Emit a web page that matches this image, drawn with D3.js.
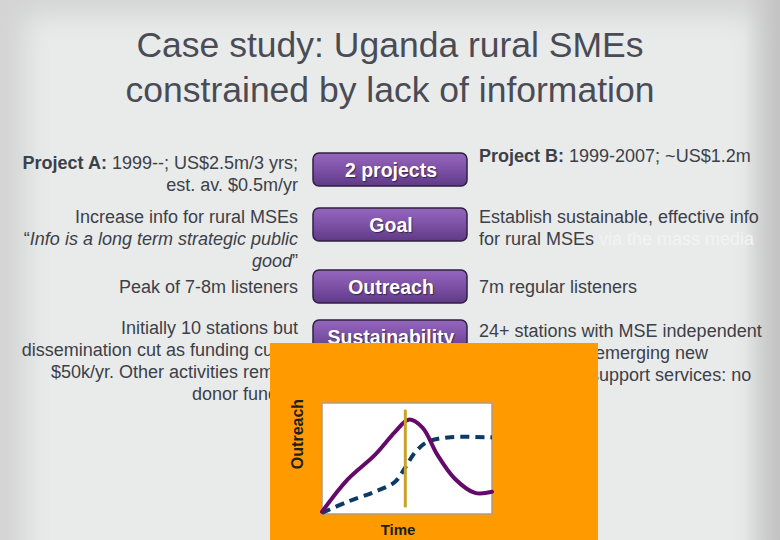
<!DOCTYPE html>
<html>
<head>
<meta charset="utf-8">
<script src="https://cdn.jsdelivr.net/npm/d3@7"></script>
<style>
  body { margin: 0; background: #d3d3d3; }
  svg { display: block; font-family: "Liberation Sans", Arial, sans-serif; }
</style>
</head>
<body>
<div id="slide"></div>
<script>
// slide text
const titleLines = ["Case study: Uganda rural SMEs", "constrained by lack of information"];
const rowLabels = ["2 projects", "Goal", "Outreach", "Sustainability"];
const leftText = [
  [{b: "Project A:", t: " 1999--; US$2.5m/3 yrs;"}, {t: "est. av. $0.5m/yr"}],
  [{t: "Increase info for rural MSEs"}, {t: "\u201c", i: "Info is a long term strategic public"}, {i: "good", t2: "\u201d"}],
  [{t: "Peak of 7-8m listeners"}],
  [{t: "Initially 10 stations but"}, {t: "dissemination cut as funding cut to"}, {t: "$50k/yr. Other activities remain"}, {t: "donor funded"}]
];
const rightText = [
  [{b: "Project B:", t: " 1999-2007; ~US$1.2m"}],
  [{t: "Establish sustainable, effective info"}, {t: "for rural MSEs", faint: " via the mass media"}],
  [{t: "7m regular listeners"}],
  [{t: "24+ stations with MSE independent"}, {t: "programming; emerging new"}, {t: "and technical support services: no"}]
];

// inset chart: outreach over time
const timeA = [0, 1.5, 3.1, 4.3, 5.1, 5.9, 6.8, 7.8, 9.0, 10];
const outreachA = [0.2, 3.1, 5.3, 7.4, 8.5, 7.8, 5.3, 3.2, 1.9, 2.0];
const timeB = [0, 1.5, 3.1, 4.3, 4.9, 5.5, 6.2, 7.4, 10];
const outreachB = [0.1, 1.1, 2.0, 2.9, 4.2, 5.6, 6.5, 6.9, 6.9];
const fundingCut = 4.9;

const width = 780, height = 540;

let svg = d3.select("#slide").append("svg")
    .attr("width", width).attr("height", height);

let defs = svg.append("defs");

defs.append("filter").attr("id", "soft")
    .attr("x", "-10%").attr("y", "-10%").attr("width", "120%").attr("height", "120%")
  .append("feGaussianBlur").attr("stdDeviation", 14);

let edge = defs.append("linearGradient").attr("id", "edge")
    .attr("x1", "0").attr("x2", "1").attr("y1", "0").attr("y2", "0");
edge.append("stop").attr("offset", "0%").attr("stop-color", "#c8c8c8").attr("stop-opacity", 0);
edge.append("stop").attr("offset", "100%").attr("stop-color", "#c2c2c2").attr("stop-opacity", 1);

let btn = defs.append("linearGradient").attr("id", "btn")
    .attr("x1", "0").attr("x2", "0").attr("y1", "0").attr("y2", "1");
btn.append("stop").attr("offset", "0%").attr("stop-color", "#9566bd");
btn.append("stop").attr("offset", "50%").attr("stop-color", "#7d51a6");
btn.append("stop").attr("offset", "100%").attr("stop-color", "#5f3a86");

// slide background: grey frame fading into a light panel
svg.append("rect").attr("width", width).attr("height", height).attr("fill", "#d4d4d4");
svg.append("rect")
    .attr("x", 26).attr("y", 16).attr("width", 730).attr("height", 560)
    .attr("fill", "#e9ebeb").attr("filter", "url(#soft)");
svg.append("rect").attr("x", 745).attr("width", 35).attr("height", height).attr("fill", "url(#edge)");

// title
svg.append("g").selectAll("text")
  .data(titleLines)
  .join("text")
    .attr("x", 390)
    .attr("y", (d, i) => 57 + i * 45)
    .attr("text-anchor", "middle")
    .attr("font-size", 35.5)
    .attr("fill", "#4a4b55")
    .text(d => d);

// purple row buttons
const rowTop = [153, 208, 270, 320];
let rows = svg.append("g").selectAll("g")
  .data(rowLabels)
  .join("g")
    .attr("transform", (d, i) => `translate(313,${rowTop[i]})`);

rows.append("rect")
    .attr("width", 154).attr("height", 33).attr("rx", 6)
    .attr("fill", "url(#btn)")
    .attr("stroke", "#2f2040").attr("stroke-width", 1.5);

rows.append("text")
    .attr("x", 78).attr("y", 24)
    .attr("text-anchor", "middle")
    .attr("font-size", 19.5).attr("font-weight", "bold")
    .attr("fill", "#ffffff")
    .attr("style", "text-shadow: 1px 1px 1px rgba(0,0,0,0.5)")
    .text(d => d);

// side text blocks
const leftTop = [169, 223, 293, 334];
const rightTop = [162, 223, 293, 337];
const lineH = 22;

function writeLines(g, data, tops, x, anchor) {
  data.forEach((lines, bi) => {
    lines.forEach((ln, li) => {
      let t = g.append("text")
          .attr("x", x)
          .attr("y", tops[bi] + li * lineH)
          .attr("text-anchor", anchor)
          .attr("font-size", 18)
          .attr("fill", "#3c4048");
      if (ln.b) t.append("tspan").attr("font-weight", "bold").text(ln.b);
      if (ln.t) t.append("tspan").text(ln.t);
      if (ln.i) t.append("tspan").attr("font-style", "italic").text(ln.i);
      if (ln.t2) t.append("tspan").text(ln.t2);
      if (ln.faint) t.append("tspan").attr("fill", "#f2f3f3").text(ln.faint);
    });
  });
}

writeLines(svg.append("g"), leftText, leftTop, 298, "end");
writeLines(svg.append("g"), rightText, rightTop, 479, "start");

// orange inset with outreach chart
svg.append("rect")
    .attr("x", 270).attr("y", 343)
    .attr("width", 328).attr("height", 197)
    .attr("fill", "#ff9a00");

let x = d3.scaleLinear().domain([0, 10]).range([322, 492]);
let y = d3.scaleLinear().domain([0, 10]).range([514, 403]);

svg.append("rect")
    .attr("x", x(0)).attr("y", y(10))
    .attr("width", x(10) - x(0)).attr("height", y(0) - y(10))
    .attr("fill", "#ffffff")
    .attr("stroke", "#b49a78").attr("stroke-width", 1.5);

let line = d3.line()
    .x(d => x(d[0]))
    .y(d => y(d[1]))
    .curve(d3.curveCatmullRom);

svg.append("path")
    .datum(d3.zip(timeB, outreachB))
    .attr("d", line)
    .attr("fill", "none")
    .attr("stroke", "#0b3a66")
    .attr("stroke-width", 4)
    .attr("stroke-dasharray", "9,6");

svg.append("path")
    .datum(d3.zip(timeA, outreachA))
    .attr("d", line)
    .attr("fill", "none")
    .attr("stroke", "#650a6a")
    .attr("stroke-width", 4)
    .attr("stroke-linecap", "round");

svg.append("line")
    .attr("x1", x(fundingCut)).attr("x2", x(fundingCut))
    .attr("y1", y(9.4)).attr("y2", y(0.6))
    .attr("stroke", "#c9a227").attr("stroke-width", 3);

svg.append("text")
    .attr("transform", `translate(303,434) rotate(-90)`)
    .attr("text-anchor", "middle")
    .attr("font-family", "'Liberation Sans Narrow', 'Arial Narrow', sans-serif")
    .attr("font-size", 16).attr("font-weight", "bold")
    .attr("fill", "#1e1e1e")
    .text("Outreach");

svg.append("text")
    .attr("x", 398).attr("y", 535)
    .attr("text-anchor", "middle")
    .attr("font-family", "'Liberation Sans Narrow', 'Arial Narrow', sans-serif")
    .attr("font-size", 15).attr("font-weight", "bold")
    .attr("fill", "#1e1e1e")
    .text("Time");
</script>
</body>
</html>
